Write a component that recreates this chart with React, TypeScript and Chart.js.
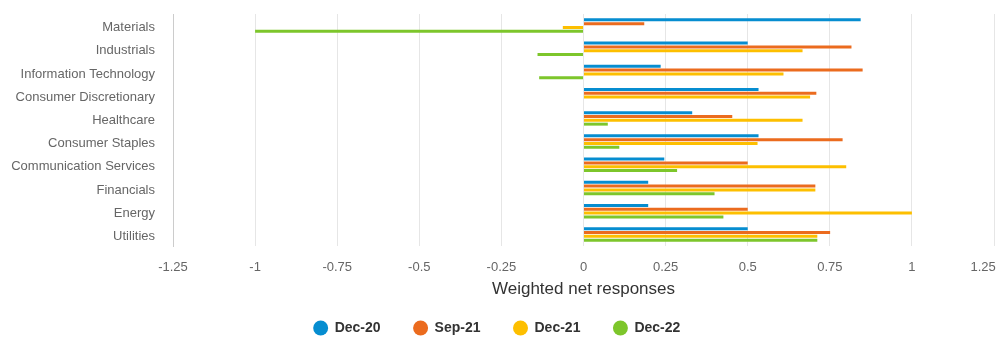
import React, { useEffect, useRef } from "react";
import { Chart, registerables } from "chart.js";

Chart.register(...registerables);

const categories = [
  "Materials",
  "Industrials",
  "Information Technology",
  "Consumer Discretionary",
  "Healthcare",
  "Consumer Staples",
  "Communication Services",
  "Financials",
  "Energy",
  "Utilities",
];

const seriesNames = ["Dec-20", "Sep-21", "Dec-21", "Dec-22"];
const seriesColors = ["#068dd0", "#eb6b1e", "#fdbf00", "#7dc62b"];

const dec20 = [0.844, 0.5, 0.235, 0.533, 0.331, 0.533, 0.246, 0.197, 0.197, 0.5];
const sep21 = [0.185, 0.816, 0.85, 0.709, 0.453, 0.789, 0.5, 0.706, 0.5, 0.751];
const dec21 = [-0.063, 0.667, 0.609, 0.69, 0.667, 0.53, 0.8, 0.706, 1.0, 0.712];
const dec22 = [-1.0, -0.14, -0.135, 0, 0.074, 0.109, 0.285, 0.399, 0.426, 0.712];

const xTicks = [-1.25, -1, -0.75, -0.5, -0.25, 0, 0.25, 0.5, 0.75, 1, 1.25];

const FONT = "'Liberation Sans', Arial, sans-serif";

export default function App() {
  const ref = useRef<HTMLCanvasElement | null>(null);

  useEffect(() => {
    if (!ref.current) return;
    const values = [dec20, sep21, dec21, dec22];
    const chart = new Chart(ref.current, {
      type: "bar",
      data: {
        labels: categories,
        datasets: seriesNames.map((name, i) => ({
          label: name,
          data: values[i],
          backgroundColor: seriesColors[i],
          borderWidth: 0,
          categoryPercentage: 0.66,
          barPercentage: 0.78,
        })),
      },
      options: {
        indexAxis: "y",
        animation: false,
        responsive: true,
        maintainAspectRatio: false,
        layout: { padding: { top: 14, left: 0, right: 9, bottom: 5 } },
        scales: {
          x: {
            type: "linear",
            min: -1.25,
            max: 1.25,
            afterBuildTicks: (scale: any) => {
              scale.ticks = xTicks.map((v) => ({ value: v }));
            },
            afterFit: (scale: any) => {
              scale.paddingRight = 0;
              scale.paddingLeft = 0;
              scale.height = 42;
            },
            grid: {
              color: "#e6e6e6",
              lineWidth: 1,
              drawTicks: false,
            },
            border: { display: false },
            ticks: {
              padding: 14,
              color: "#666666",
              font: { family: FONT, size: 13 },
              maxRotation: 0,
              autoSkip: false,
              callback: (v: any) => {
                const n = Number(v);
                const s = String(n);
                return n === 1.25 ? s + "      " : s;
              },
            },
            title: {
              display: true,
              text: "Weighted net responses",
              color: "#333333",
              font: { family: FONT, size: 17 },
              padding: { top: 0, bottom: -12 },
            },
          },
          y: {
            afterFit: (scale: any) => {
              scale.width = 173;
              scale.paddingTop = 0;
              scale.paddingBottom = 0;
            },
            grid: { display: false, drawTicks: false },
            border: { display: true, color: "#cccccc", width: 1 },
            ticks: {
              padding: 18,
              labelOffset: 2,
              color: "#666666",
              font: { family: FONT, size: 13 },
              autoSkip: false,
            },
          },
        },
        plugins: {
          tooltip: { enabled: false },
          legend: {
            position: "bottom",
            labels: {
              usePointStyle: true,
              pointStyle: "circle",
              boxHeight: 10.6,
              padding: 33,
              color: "#333333",
              font: { family: FONT, size: 14, weight: "bold" },
            },
          },
        },
      },
    });
    return () => chart.destroy();
  }, []);

  return (
    <div style={{ position: "fixed", left: 0, top: 0, width: 1003, height: 350 }}>
      <canvas ref={ref} />
    </div>
  );
}
